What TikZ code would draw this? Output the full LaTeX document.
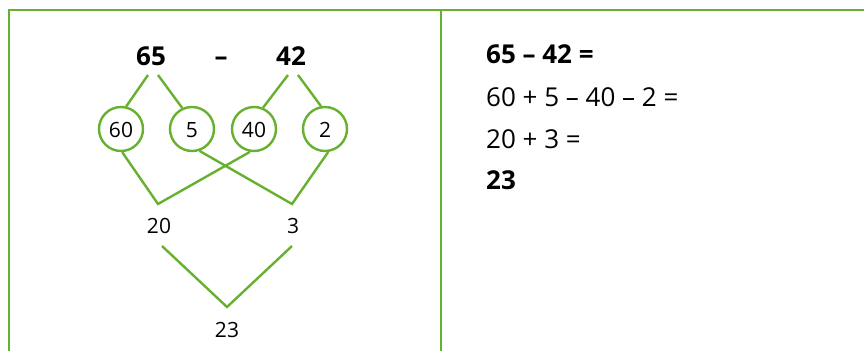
\documentclass[tikz,border=0pt]{standalone}
\usepackage{fontspec}
\setmainfont{Open Sans}
\definecolor{lgreen}{RGB}{104,176,48}
\begin{document}
\begin{tikzpicture}[x=1pt,y=-1pt,
  frame/.style={lgreen,line width=2.7pt},
  conn/.style={lgreen,line width=2.4pt},
  ring/.style={circle,draw=lgreen,line width=2.4pt,minimum size=44pt,inner sep=0pt},
  ringtxt/.style={anchor=base,inner sep=0pt,font=\fontsize{21}{24}\selectfont},
  big/.style={anchor=base,font=\fontsize{26}{30}\selectfont\bfseries,inner sep=0pt},
  small/.style={anchor=base,font=\fontsize{21}{24}\selectfont,inner sep=0pt},
  line/.style={anchor=base west,inner sep=0pt,font=\fontsize{26}{30}\selectfont},
  boldline/.style={line,font=\fontsize{26}{30}\selectfont\bfseries}]
\useasboundingbox (0,0) rectangle (864,351);
% frame
\coordinate (tl) at (9,10);
\coordinate (tr) at (864,10);
\coordinate (bl) at (9,351);
\coordinate (tm) at (441,10);
\coordinate (bm) at (441,351);
\draw[frame] (bl) -- (tl) -- (tr);
\draw[frame] (tm) -- (bm);
% top numbers
\node[big] (n65) at (151,65) {65};
\node[big] (minus) at (221,65) {–};
\node[big] (n42) at (291,65) {42};
% circles
\node[ring] (c60) at (121,129) {};
\node[ring] (c5) at (192,129) {};
\node[ring] (c40) at (254,129) {};
\node[ring] (c2) at (325,129) {};
\node[ringtxt] (t60) at (121,137) {60};
\node[ringtxt] (t5) at (192,137) {5};
\node[ringtxt] (t40) at (254,137) {40};
\node[ringtxt] (t2) at (325,137) {2};
% start points under 65 and 42
\coordinate (a1) at (148,75);
\coordinate (a2) at (158,75);
\coordinate (b1) at (288,75);
\coordinate (b2) at (298,75);
\draw[conn] (a1) -- (c60.77);
\draw[conn] (a2) -- (c5.115);
\draw[conn] (b1) -- (c40.67);
\draw[conn] (b2) -- (c2.100);
% joins
\coordinate (j20) at (158,204);
\coordinate (j3) at (292,204);
\draw[conn] (c60.-87) -- (j20) -- (c40.-100);
\draw[conn] (c5.-71) -- (j3) -- (c2.-82);
\node[small] (n20) at (159,233) {20};
\node[small] (n3) at (293,233) {3};
\coordinate (s20) at (162,246);
\coordinate (s3) at (292,246);
\coordinate (j23) at (227,307);
\draw[conn] (s20) -- (j23) -- (s3);
\node[small] (n23) at (227,337) {23};
% right panel
\node[boldline] (l1) at (486,63) {65 – 42 =};
\node[line] (l2) at (486,106) {60 + 5 – 40 – 2 =};
\node[line] (l3) at (486,148) {20 + 3 =};
\node[boldline] (l4) at (486,189) {23};
\end{tikzpicture}
\end{document}
